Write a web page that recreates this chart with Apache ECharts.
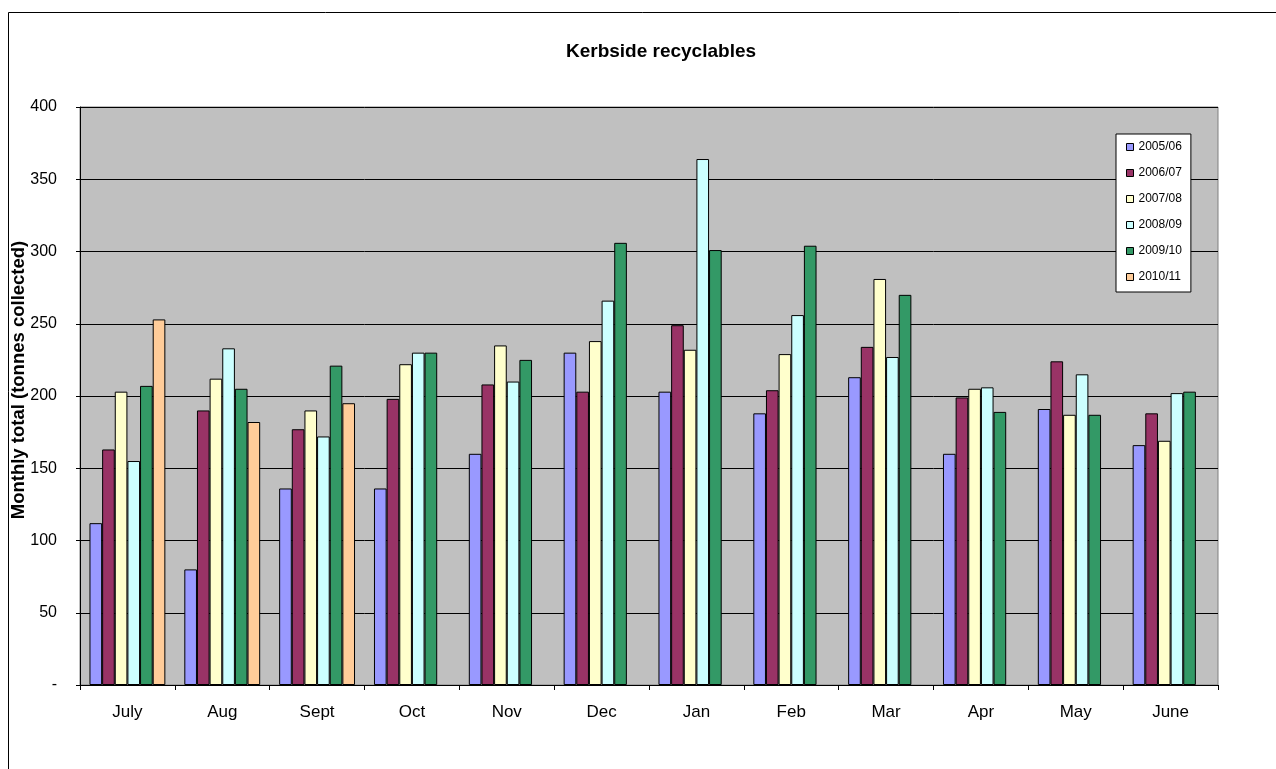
<!DOCTYPE html>
<html>
<head>
<meta charset="utf-8">
<script src="https://cdn.jsdelivr.net/npm/echarts@6/dist/echarts.min.js"></script>
<style>
html,body{margin:0;padding:0;background:#fff;}
#c{width:1276px;height:769px;}
</style>
</head>
<body>
<div id="c"></div>
<script>
const months = ['July','Aug','Sept','Oct','Nov','Dec','Jan','Feb','Mar','Apr','May','June'];
const seriesNames = ['2005/06','2006/07','2007/08','2008/09','2009/10','2010/11'];
const s2005 = [112, 80, 136, 136, 160, 230, 203, 188, 213, 160, 191, 166];
const s2006 = [163, 190, 177, 198, 208, 203, 249, 204, 234, 199, 224, 188];
const s2007 = [203, 212, 190, 222, 235, 238, 232, 229, 281, 205, 187, 169];
const s2008 = [155, 233, 172, 230, 210, 266, 364, 256, 227, 206, 215, 202];
const s2009 = [207, 205, 221, 230, 225, 306, 301, 304, 270, 189, 187, 203];
const s2010 = [253, 182, 195, null, null, null, null, null, null, null, null, null];
const yTicks = [0, 50, 100, 150, 200, 250, 300, 350, 400];
const colors = ['#9999FF','#993366','#FFFFCC','#CCFFFF','#339966','#FFCC99'];
const allData = [s2005, s2006, s2007, s2008, s2009, s2010];

const chart = echarts.init(document.getElementById('c'));
const font = 'Liberation Sans, Arial, sans-serif';
chart.setOption({
  animation: false,
  textStyle: {fontFamily: font},
  graphic: [{
    type: 'rect', left: 8, top: 12, z: -10,
    shape: {width: 1300, height: 800},
    style: {fill: '#fff', stroke: '#000', lineWidth: 1}
  }, {
    type: 'text', x: 19, y: 380, rotation: Math.PI / 2, z: 10,
    style: {
      text: 'Monthly total (tonnes collected)', fill: '#000',
      font: 'bold 18.5px Liberation Sans, Arial, sans-serif',
      textAlign: 'center', textVerticalAlign: 'middle'
    }
  }],
  title: {
    text: 'Kerbside recyclables', left: 656, top: 37, textAlign: 'center',
    textStyle: {fontSize: 19, fontWeight: 'bold', color: '#000', fontFamily: font}
  },
  legend: {
    orient: 'vertical', left: 1116, top: 134,
    padding: [6, 9, 8, 10], itemGap: 12,
    itemWidth: 7, itemHeight: 7, icon: 'rect',
    backgroundColor: '#fff', borderColor: '#000', borderWidth: 1,
    itemStyle: {borderColor: '#000', borderWidth: 1},
    textStyle: {fontSize: 12, color: '#000', lineHeight: 14, fontFamily: font},
    data: seriesNames
  },
  grid: {
    left: 80, right: 58, top: 107, bottom: 84,
    show: true, backgroundColor: '#C0C0C0', borderColor: '#808080', borderWidth: 1,
    containLabel: false
  },
  xAxis: {
    type: 'category', data: months, boundaryGap: true,
    axisLine: {lineStyle: {color: '#000', width: 1}},
    axisTick: {show: true, length: 5, lineStyle: {color: '#000'}},
    axisLabel: {fontSize: 17, color: '#000', margin: 19, fontFamily: font},
    splitLine: {show: false}
  },
  yAxis: {
    type: 'value', min: 0, max: 400, interval: 50,
    axisLine: {show: true, lineStyle: {color: '#000', width: 1}},
    axisTick: {show: true, length: 4, lineStyle: {color: '#000'}},
    axisLabel: {fontSize: 16, color: '#000', margin: 23, fontFamily: font,
      formatter: v => (v === 0 ? '-' : String(v))},
    splitLine: {show: true, lineStyle: {color: '#000', width: 1}}
  },
  series: seriesNames.map((n, i) => ({
    name: n, type: 'bar', data: allData[i],
    barGap: '0%', barCategoryGap: '20%',
    itemStyle: {color: colors[i], borderColor: '#000', borderWidth: 1}
  }))
});
</script>
</body>
</html>
